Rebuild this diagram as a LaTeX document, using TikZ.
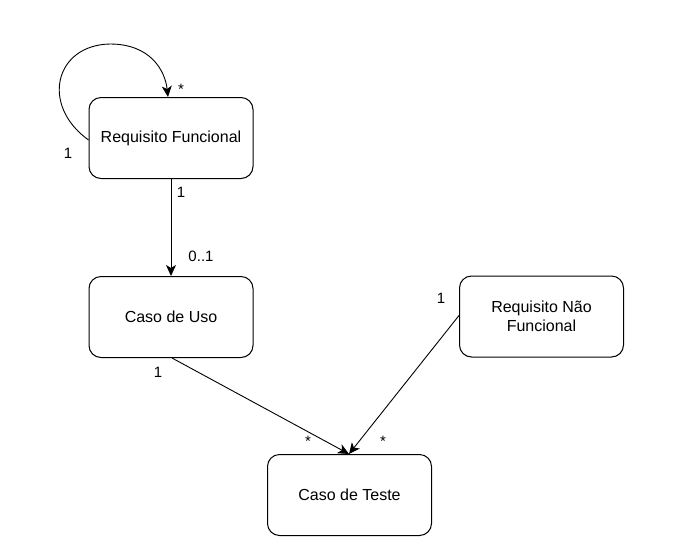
\documentclass[tikz,border=0pt]{standalone}
\usepackage{fontspec}
\setmainfont{Liberation Sans}
\usetikzlibrary{arrows.meta}
\begin{document}
\begin{tikzpicture}[x=1pt,y=-1pt,
  box/.style={draw,line width=1pt,rounded corners=12pt,minimum width=164pt,minimum height=81pt,align=center,font=\fontsize{16}{19}\selectfont,inner sep=0pt},
  conn/.style={line width=0.9pt,-{Stealth[length=11pt,width=10pt,inset=3pt]}},
  lbl/.style={font=\fontsize{15}{18}\selectfont,inner sep=0pt}]
\useasboundingbox (0,0) rectangle (681,550);
\node[box] (rf) at (171,138) {Requisito Funcional};
\node[box] (cu) at (171,317) {Caso de Uso};
\node[box] (rnf) at (541.5,316.5) {Requisito Não\\Funcional};
\node[box] (ct) at (349.5,495) {Caso de Teste};
\coordinate (ctin) at (349,454);
\draw[conn] (rf.south) -- (cu.north);
\draw[conn] ([xshift=1pt]cu.south) -- (ctin);
\draw[conn] ([yshift=1pt]rnf.west) -- (ctin);
\draw[conn] ([yshift=-2pt]rf.west) .. controls (40,105) and (55,45) .. (110,44) .. controls (150,44) and (165,70) .. ([xshift=-3pt]rf.north);
\node[lbl] (l1) at (181,192) {1};
\node[lbl] (l2) at (201,256) {0..1};
\node[lbl] (l3) at (158,372) {1};
\node[lbl] (l4) at (308,441) {*};
\node[lbl] (l5) at (441,298) {1};
\node[lbl] (l6) at (383,441) {*};
\node[lbl] (l7) at (181,89) {*};
\node[lbl] (l8) at (68,153) {1};
\end{tikzpicture}
\end{document}
